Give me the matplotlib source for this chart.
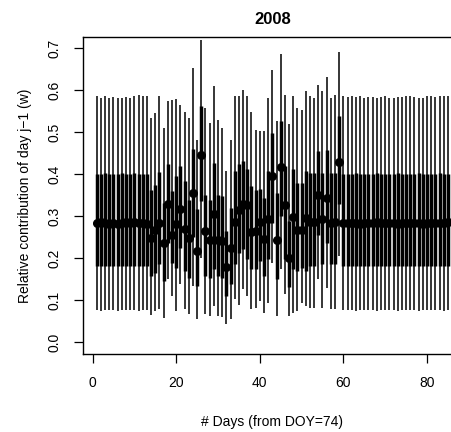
import numpy as np
import matplotlib
matplotlib.use('Agg')
import matplotlib.pyplot as plt

plt.rcParams['font.family'] = ['Liberation Sans', 'DejaVu Sans']

# days since DOY 74
days = list(range(1, 86))

# central value (points)
med = [0.284, 0.286, 0.285, 0.283, 0.284, 0.283, 0.285, 0.286, 0.285, 0.286, 0.285, 0.284, 0.283,
       0.249, 0.267, 0.285, 0.236, 0.329, 0.257, 0.283, 0.317, 0.271, 0.249, 0.355, 0.218,
       0.446, 0.265, 0.245, 0.305, 0.244, 0.241, 0.180, 0.224, 0.287, 0.315, 0.330, 0.327,
       0.263, 0.266, 0.287, 0.247, 0.294, 0.396, 0.245, 0.417, 0.327, 0.202, 0.299, 0.267,
       0.267, 0.297, 0.287, 0.287, 0.350, 0.295, 0.344, 0.284, 0.287, 0.429,
       0.285, 0.284, 0.284, 0.285, 0.283, 0.284, 0.285, 0.284, 0.286, 0.285, 0.284, 0.285, 0.284,
       0.283, 0.284, 0.285, 0.284, 0.285, 0.284, 0.283, 0.284, 0.285, 0.284, 0.284, 0.285, 0.286]

# thick bar (inner interval)
q25 = [0.182, 0.183, 0.182, 0.181, 0.182, 0.183, 0.182, 0.182, 0.181, 0.182, 0.183, 0.182, 0.182,
       0.158, 0.166, 0.186, 0.146, 0.238, 0.190, 0.178, 0.226, 0.170, 0.154, 0.250, 0.135,
       0.337, 0.158, 0.154, 0.174, 0.158, 0.154, 0.110, 0.139, 0.186, 0.214, 0.222, 0.198,
       0.174, 0.174, 0.194, 0.158, 0.198, 0.285, 0.150, 0.301, 0.198, 0.131, 0.174, 0.170,
       0.178, 0.170, 0.182, 0.182, 0.257, 0.186, 0.237, 0.186, 0.186, 0.329,
       0.182, 0.182, 0.183, 0.182, 0.181, 0.182, 0.182, 0.183, 0.182, 0.182, 0.181, 0.182, 0.182,
       0.183, 0.182, 0.182, 0.181, 0.182, 0.182, 0.183, 0.182, 0.182, 0.182, 0.181, 0.182, 0.182]
q75 = [0.402, 0.401, 0.403, 0.402, 0.400, 0.402, 0.403, 0.401, 0.402, 0.403, 0.402, 0.401, 0.402,
       0.364, 0.376, 0.405, 0.333, 0.424, 0.360, 0.396, 0.420, 0.384, 0.340, 0.460, 0.317,
       0.562, 0.352, 0.340, 0.428, 0.352, 0.348, 0.265, 0.321, 0.408, 0.424, 0.432, 0.412,
       0.372, 0.364, 0.366, 0.344, 0.408, 0.499, 0.356, 0.527, 0.420, 0.289, 0.412, 0.380,
       0.380, 0.408, 0.404, 0.404, 0.455, 0.404, 0.459, 0.404, 0.404, 0.540,
       0.402, 0.401, 0.402, 0.403, 0.402, 0.401, 0.402, 0.402, 0.403, 0.402, 0.401, 0.402, 0.402,
       0.403, 0.402, 0.401, 0.402, 0.402, 0.403, 0.402, 0.401, 0.402, 0.402, 0.403, 0.402, 0.402]

# thin whisker (outer interval)
lo = [0.077, 0.076, 0.077, 0.078, 0.077, 0.076, 0.077, 0.077, 0.078, 0.077, 0.076, 0.077, 0.077,
      0.065, 0.075, 0.079, 0.059, 0.150, 0.111, 0.075, 0.139, 0.079, 0.067, 0.135, 0.055,
      0.202, 0.067, 0.063, 0.087, 0.063, 0.060, 0.044, 0.057, 0.103, 0.090, 0.127, 0.111,
      0.079, 0.083, 0.099, 0.071, 0.095, 0.190, 0.063, 0.175, 0.115, 0.063, 0.070, 0.075,
      0.095, 0.087, 0.081, 0.081, 0.150, 0.083, 0.130, 0.079, 0.079, 0.206,
      0.077, 0.078, 0.077, 0.076, 0.077, 0.077, 0.078, 0.077, 0.076, 0.077, 0.077, 0.078, 0.077,
      0.076, 0.077, 0.077, 0.078, 0.077, 0.076, 0.077, 0.077, 0.078, 0.077, 0.077, 0.076, 0.077]
hi = [0.588, 0.583, 0.587, 0.581, 0.585, 0.583, 0.583, 0.585, 0.583, 0.586, 0.590, 0.588, 0.586,
      0.534, 0.546, 0.588, 0.511, 0.574, 0.578, 0.580, 0.566, 0.548, 0.534, 0.653, 0.483,
      0.721, 0.558, 0.523, 0.610, 0.529, 0.511, 0.409, 0.481, 0.586, 0.586, 0.602, 0.587,
      0.549, 0.507, 0.503, 0.503, 0.582, 0.648, 0.527, 0.687, 0.590, 0.520, 0.586, 0.558,
      0.554, 0.598, 0.586, 0.582, 0.613, 0.598, 0.633, 0.582, 0.590, 0.691,
      0.586, 0.585, 0.588, 0.584, 0.586, 0.583, 0.585, 0.584, 0.583, 0.585, 0.586, 0.583, 0.581,
      0.584, 0.585, 0.587, 0.586, 0.585, 0.583, 0.582, 0.586, 0.587, 0.585, 0.586, 0.587, 0.586]

fig = plt.figure(figsize=(4.52, 4.32), dpi=100)
# R-style plot region, right edge runs past the image (cropped original)
ax = fig.add_axes([0.183, 0.180, 0.839, 0.735])

ax.vlines(days, lo, hi, colors='black', linewidth=1.1)
ax.vlines(days, q25, q75, colors='black', linewidth=2.5)
ax.plot(days, med, 'o', color='black', markersize=5.5)

ax.set_xlim(-2.36, 88.36)
ax.set_ylim(-0.028, 0.728)
ax.set_xticks([0, 20, 40, 60, 80])
ax.set_yticks([0.0, 0.1, 0.2, 0.3, 0.4, 0.5, 0.6, 0.7])
ax.set_yticklabels(['0.0', '0.1', '0.2', '0.3', '0.4', '0.5', '0.6', '0.7'], rotation=90, va='center')
ax.tick_params(direction='out', length=6.5, width=0.9, labelsize=10, pad=9)
for s in ax.spines.values():
    s.set_linewidth(1.0)

ax.set_title('2008', fontweight='bold', fontsize=12, pad=9)
ax.set_xlabel('# Days (from DOY=74)', fontsize=10, labelpad=18)
ax.set_ylabel('Relative contribution of day j\u22121 (w)', fontsize=10, labelpad=11)

fig.savefig('out.png', dpi=100)
